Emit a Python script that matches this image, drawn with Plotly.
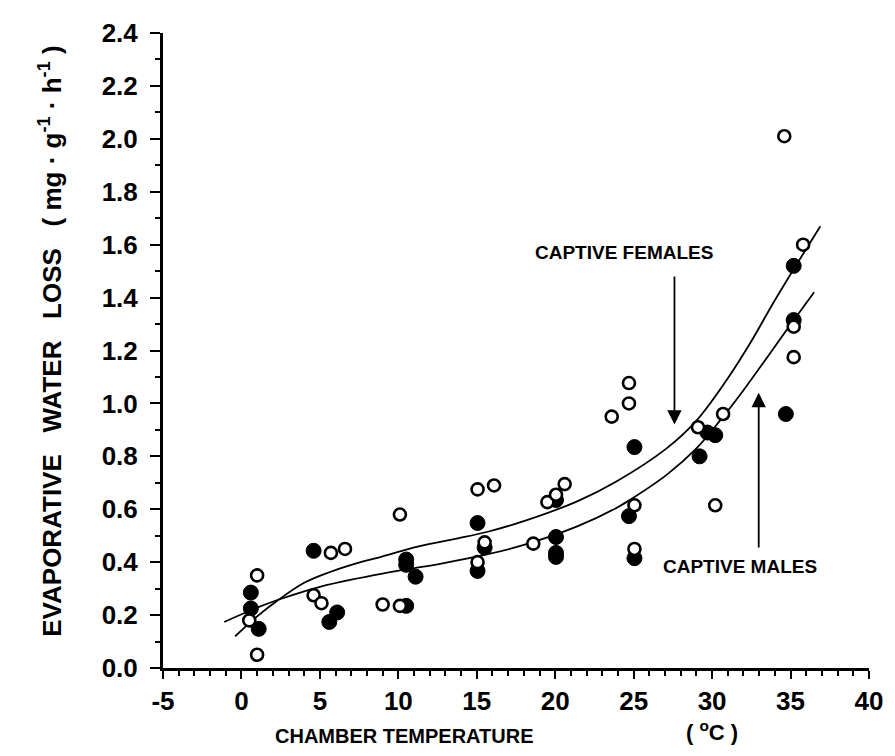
import plotly.graph_objects as go

# Open circles
open_x = [1.0, 1.0, 0.5, 5.7, 6.6, 4.6, 5.1, 10.1, 9.0, 10.1, 15.05, 16.1, 15.5, 15.05,
          18.6, 19.5, 20.05, 20.6, 24.7, 24.7, 23.6, 25.05, 25.05, 29.1, 30.7, 30.2,
          34.6, 35.8, 35.2, 35.2]
open_y = [0.35, 0.05, 0.18, 0.435, 0.45, 0.275, 0.245, 0.58, 0.24, 0.235, 0.675, 0.69, 0.475, 0.40,
          0.47, 0.627, 0.655, 0.695, 1.077, 1.0, 0.95, 0.615, 0.45, 0.91, 0.96, 0.615,
          2.01, 1.60, 1.29, 1.175]

# Filled circles
filled_x = [0.6, 0.6, 1.1, 4.6, 5.6, 6.1, 10.5, 10.5, 10.5, 11.1, 15.05, 15.5, 15.05,
            20.05, 20.05, 20.05, 20.05, 25.05, 24.7, 25.05, 29.2, 29.7, 30.2,
            35.2, 35.2, 34.7]
filled_y = [0.285, 0.225, 0.148, 0.443, 0.174, 0.21, 0.235, 0.41, 0.39, 0.345, 0.548, 0.455, 0.367,
            0.635, 0.495, 0.435, 0.42, 0.835, 0.574, 0.415, 0.80, 0.89, 0.88,
            1.52, 1.315, 0.96]

# Fitted curves
fem_x = [-0.4, 1.0, 2.3, 4.0, 5.6, 7.0, 9.0, 11.3, 13.8, 15.7, 18.0, 21.4, 23.9, 27.1, 29.0, 31.0, 32.5, 34.0, 36.9]
fem_y = [0.12, 0.195, 0.255, 0.322, 0.362, 0.39, 0.422, 0.46, 0.49, 0.515, 0.555, 0.63, 0.705, 0.83, 0.935, 1.095, 1.235, 1.39, 1.67]
mal_x = [-1.1, 1.0, 2.3, 4.0, 5.0, 7.0, 9.0, 11.3, 12.5, 15.7, 18.0, 21.4, 23.9, 24.75, 27.1, 29.0, 30.5, 32.0, 34.9, 36.5]
mal_y = [0.174, 0.228, 0.257, 0.29, 0.307, 0.334, 0.357, 0.38, 0.392, 0.43, 0.465, 0.535, 0.605, 0.635, 0.73, 0.83, 0.935, 1.05, 1.29, 1.42]

x_ticks = [-5, 0, 5, 10, 15, 20, 25, 30, 35, 40]
y_ticks = [0.0, 0.2, 0.4, 0.6, 0.8, 1.0, 1.2, 1.4, 1.6, 1.8, 2.0, 2.2, 2.4]

FONT = "Liberation Sans, Arial, Helvetica, sans-serif"

fig = go.Figure()
fig.add_trace(go.Scatter(x=fem_x, y=fem_y, mode="lines", line=dict(color="black", width=1.8, shape="spline"),
                         name="CAPTIVE FEMALES", hoverinfo="skip"))
fig.add_trace(go.Scatter(x=mal_x, y=mal_y, mode="lines", line=dict(color="black", width=1.8, shape="spline"),
                         name="CAPTIVE MALES", hoverinfo="skip"))
fig.add_trace(go.Scatter(x=filled_x, y=filled_y, mode="markers",
                         marker=dict(symbol="circle", size=15, color="black", line=dict(color="black", width=1)),
                         name="filled"))
fig.add_trace(go.Scatter(x=open_x, y=open_y, mode="markers",
                         marker=dict(symbol="circle", size=12, color="white", line=dict(color="black", width=2.6)),
                         name="open"))

fig.update_layout(
    width=895, height=756,
    margin=dict(l=163, r=21, t=33, b=88),
    paper_bgcolor="white", plot_bgcolor="white",
    showlegend=False,
    font=dict(family=FONT, color="black"),
    xaxis=dict(range=[-5.0001, 40.0001], tickmode="array", tickvals=x_ticks,
               ticktext=[f"<b>{v}</b>" for v in x_ticks],
               ticks="outside", ticklen=8, tickwidth=2, tickcolor="black",
               minor=dict(dtick=1, ticks="outside", ticklen=5, tickwidth=1.5, tickcolor="black"),
               showline=True, linewidth=2.5, linecolor="black", showgrid=False, zeroline=False,
               tickfont=dict(size=26, family=FONT)),
    yaxis=dict(range=[0, 2.4001], tickmode="array", tickvals=y_ticks,
               ticktext=[f"<b>{v:.1f}</b>\u00a0" for v in y_ticks],
               ticks="outside", ticklen=10, tickwidth=2, tickcolor="black",
               minor=dict(dtick=0.1, ticks="outside", ticklen=5, tickwidth=1.5, tickcolor="black"),
               showline=True, linewidth=2.5, linecolor="black", showgrid=False, zeroline=False,
               tickfont=dict(size=26, family=FONT)),
)

# arrows
fig.add_annotation(x=27.6, y=0.92, ax=27.6, ay=1.485, xref="x", yref="y", axref="x", ayref="y",
                   text="", showarrow=True, arrowhead=2, arrowsize=1.6, arrowwidth=1.8, arrowcolor="black")
fig.add_annotation(x=32.97, y=1.04, ax=32.97, ay=0.45, xref="x", yref="y", axref="x", ayref="y",
                   text="", showarrow=True, arrowhead=2, arrowsize=1.6, arrowwidth=1.8, arrowcolor="black")
fig.add_annotation(x=24.4, y=1.57, xref="x", yref="y", text="<b>CAPTIVE FEMALES</b>", showarrow=False,
                   font=dict(size=19, family=FONT))
fig.add_annotation(x=31.75, y=0.385, xref="x", yref="y", text="<b>CAPTIVE MALES</b>", showarrow=False,
                   font=dict(size=19, family=FONT))

# axis titles
fig.add_annotation(x=0.342, y=-0.107, xref="paper", yref="paper", text="<b>CHAMBER TEMPERATURE</b>",
                   showarrow=False, font=dict(size=20, family=FONT), yanchor="middle")
fig.add_annotation(x=0.738, y=-0.099, xref="paper", yref="paper", text="<b>( <sup>o</sup>C )</b>",
                   showarrow=False, font=dict(size=22, family=FONT), xanchor="left", yanchor="middle")
fig.add_annotation(x=-0.159, y=0.515, xref="paper", yref="paper",
                   text="<b>EVAPORATIVE\u00a0\u00a0 WATER\u00a0\u00a0 LOSS\u00a0\u00a0 ( mg · g<sup>-1</sup> · h<sup>-1</sup> )</b>",
                   showarrow=False, textangle=-90, font=dict(size=26, family=FONT),
                   xanchor="center", yanchor="middle")

fig.write_html("out.html")
